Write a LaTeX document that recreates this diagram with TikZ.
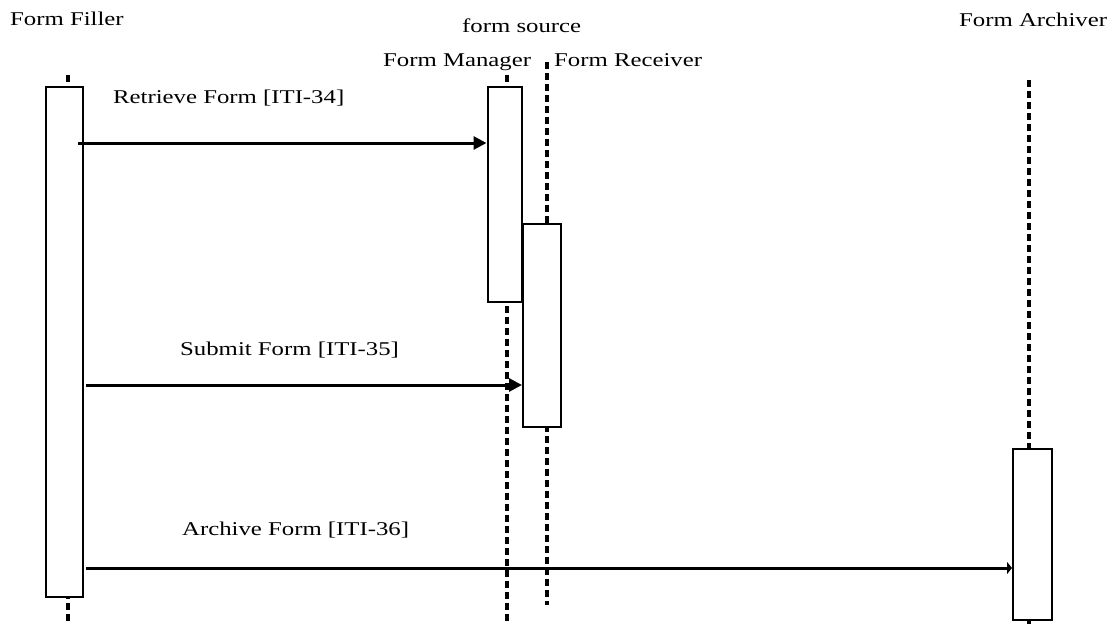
\documentclass[tikz,border=0pt]{standalone}
\usepackage{fontspec}
\setmainfont[FakeStretch=1.27]{Liberation Serif}
\usetikzlibrary{arrows.meta}
\begin{document}
\begin{tikzpicture}[x=1pt,y=-1pt,
  lbl/.style={anchor=base west, inner sep=0pt, font=\fontsize{19.5}{23}\selectfont},
  actbox/.style={draw, line width=2pt, fill=white, inner sep=0pt},
  life/.style={line width=3.5pt, dash pattern=on 7pt off 4pt},
  msg/.style={line width=3pt, -{Triangle[length=13pt,width=13pt]}}]
\useasboundingbox (0,0) rectangle (1120,624);
% lifelines
\draw[life] (68,75) coordinate (ff0) -- (68,624) coordinate (ff1);
\draw[life] (507,75) coordinate (fm0) -- (507,624) coordinate (fm1);
\draw[life] (547,62) coordinate (fr0) -- (547,605) coordinate (fr1);
\draw[life] (1029,80) coordinate (fa0) -- (1029,624) coordinate (fa1);
% activation boxes
\node[actbox, minimum width=37pt, minimum height=510pt] (ffbox) at (64.5,342) {};
\node[actbox, minimum width=34pt, minimum height=215pt] (fmbox) at (504.5,194.5) {};
\node[actbox, minimum width=38pt, minimum height=203pt] (frbox) at (542,325.5) {};
\node[actbox, minimum width=39pt, minimum height=171pt] (fabox) at (1032.5,534.5) {};
% labels
\node[lbl] (tff) at (10,25) {Form Filler};
\node[lbl] (tsrc) at (462,32) {form source};
\node[lbl] (tfm) at (383,66) {Form Manager};
\node[lbl] (tfr) at (554,66) {Form Receiver};
\node[lbl] (tfa) at (959,26) {Form Archiver};
\node[lbl] (t1) at (113,103) {Retrieve Form [ITI-34]};
\node[lbl] (t2) at (180,355) {Submit Form [ITI-35]};
\node[lbl] (t3) at (182,535) {Archive Form [ITI-36]};
% messages
\coordinate (m1s) at (78,143);
\coordinate (m2s) at (86,385);
\coordinate (m3s) at (86,568);
\draw[msg] (m1s) -- (fmbox.west |- m1s);
\draw[msg] (m2s) -- (frbox.west |- m2s);
\draw[line width=3pt, -{Triangle[length=5pt,width=12pt]}] (m3s) -- (fabox.west |- m3s);
\end{tikzpicture}
\end{document}
